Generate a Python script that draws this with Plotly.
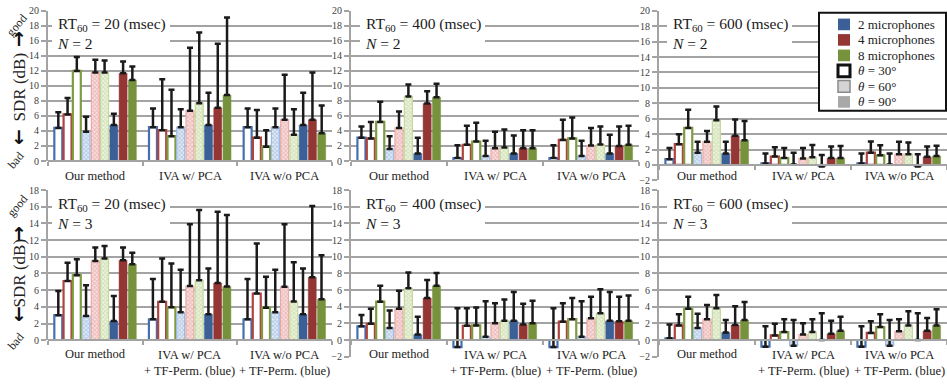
import plotly.graph_objects as go

W, H = 947, 384

# ---------------- data ----------------
groups_top = ["Our method", "IVA w/ PCA", "IVA w/o PCA"]
groups_bottom = ["Our method", "IVA w/ PCA + TF-Perm. (blue)", "IVA w/o PCA + TF-Perm. (blue)"]
group_text_top = ["Our method", "IVA w/ PCA", "IVA w/o PCA"]
group_text_bottom = ["Our method", "IVA w/ PCA<br>+ TF-Perm. (blue)", "IVA w/o PCA<br>+ TF-Perm. (blue)"]

# bar order inside each group:
# theta=30 (2,4,8 mics), theta=60 (2,4,8 mics), theta=90 (2,4,8 mics)
mic_names = ["2 microphones", "4 microphones", "8 microphones"]
theta_names = ["θ = 30°", "θ = 60°", "θ = 90°"]

# N = 2
sdr_n2_rt20 = [[4.4, 6.2, 12.0, 3.9, 11.8, 11.8, 4.8, 11.7, 10.8],
               [4.5, 4.1, 3.3, 4.5, 6.7, 7.7, 4.8, 7.1, 8.8],
               [4.5, 3.1, 1.9, 4.5, 5.5, 3.5, 4.8, 5.5, 3.7]]
std_n2_rt20 = [[2.1, 2.2, 1.85, 2.0, 1.7, 1.6, 1.5, 1.55, 1.8],
               [2.5, 6.8, 6.2, 2.4, 8.4, 9.4, 4.3, 8.5, 10.3],
               [2.5, 3.7, 2.2, 2.5, 6.0, 3.4, 4.3, 6.3, 3.7]]

sdr_n2_rt400 = [[3.1, 3.0, 5.2, 1.6, 4.4, 8.6, 1.0, 7.65, 8.5],
                [0.4, 2.15, 2.6, 0.65, 1.7, 1.8, 1.0, 1.7, 1.7],
                [0.4, 2.8, 3.0, 0.65, 2.05, 2.2, 1.0, 2.0, 2.15]]
std_n2_rt400 = [[1.5, 2.2, 2.7, 1.7, 2.2, 1.6, 2.1, 1.65, 1.8],
                [1.7, 2.55, 2.5, 2.05, 2.2, 2.4, 2.4, 2.4, 2.4],
                [1.7, 2.7, 2.8, 2.05, 2.35, 2.4, 2.5, 2.6, 2.55]]

sdr_n2_rt600 = [[0.75, 2.7, 4.8, 1.6, 3.0, 5.8, 1.5, 3.8, 3.2],
                [0.2, 1.1, 0.9, 0.05, 0.85, 1.0, -0.2, 0.9, 0.9],
                [0.2, 1.6, 1.25, 0.05, 1.4, 1.4, -0.2, 1.05, 1.15]]
std_n2_rt600 = [[1.45, 1.3, 2.35, 1.4, 1.4, 1.8, 1.5, 2.1, 2.5],
                [1.3, 1.2, 1.3, 1.55, 1.35, 1.6, 1.5, 1.5, 1.55],
                [1.3, 1.45, 1.3, 1.45, 1.6, 1.5, 1.6, 1.35, 1.35]]

# N = 3
sdr_n3_rt20 = [[3.0, 7.1, 7.8, 2.9, 9.5, 9.8, 2.3, 9.6, 9.1],
               [2.5, 4.6, 3.95, 3.35, 6.5, 7.2, 3.1, 6.85, 6.45],
               [2.5, 5.6, 3.9, 3.35, 6.4, 4.65, 3.1, 7.55, 4.9]]
std_n3_rt20 = [[2.9, 2.2, 1.9, 3.7, 1.6, 1.5, 3.0, 1.5, 1.4],
               [4.85, 5.2, 5.25, 5.1, 7.4, 8.4, 5.5, 8.55, 8.55],
               [4.85, 6.0, 3.7, 5.1, 7.5, 4.7, 5.5, 8.55, 5.3]]

sdr_n3_rt400 = [[1.65, 1.95, 4.6, 1.45, 3.75, 6.2, 0.65, 5.05, 6.5],
                [-0.85, 1.7, 1.75, 0.4, 2.0, 2.3, 2.3, 1.85, 2.0],
                [-0.85, 2.2, 2.5, 0.4, 2.6, 3.2, 2.3, 2.25, 2.3]]
std_n3_rt400 = [[1.35, 1.8, 1.9, 2.1, 2.15, 1.9, 2.15, 2.15, 1.55],
                [4.65, 2.1, 2.15, 4.25, 2.4, 2.55, 3.45, 2.5, 2.7],
                [4.65, 2.2, 2.55, 4.25, 2.6, 2.9, 3.45, 2.95, 3.05]]

sdr_n3_rt600 = [[0.2, 1.75, 3.75, 1.45, 2.5, 3.8, 0.9, 1.8, 2.4],
                [-0.8, 0.55, 0.95, -0.7, 0.65, 0.95, 0.0, 0.75, 1.1],
                [-0.8, 0.85, 1.55, -0.7, 1.05, 1.75, 0.0, 1.1, 1.75]]
std_n3_rt600 = [[1.65, 1.35, 1.45, 1.7, 1.7, 1.6, 1.5, 2.25, 2.15],
                [2.45, 1.4, 1.55, 3.1, 1.35, 1.55, 3.2, 1.55, 1.7],
                [2.45, 1.4, 1.55, 3.1, 1.45, 1.7, 3.2, 1.55, 1.95]]

rt_labels = ["20", "400", "600"]

# ---------------- styles ----------------
FONT = "Liberation Serif"
solid_col = ["#3B5F97", "#943634", "#76923C"]
outline_col = ["#4470B0", "#B0423F", "#7E9B42"]
hatch_bg = ["#E3ECF7", "#F8E2E1", "#EEF4E2"]
hatch_fg = ["#7FA5D6", "#E08A88", "#B3CE85"]
hatch_line = ["#9DBAE0", "#E8A9A7", "#C3D99E"]
GRID = "#A3A3A3"

# panel geometry in pixels: x0, x1, ytop, ybottom, yrange
panels = [
    dict(v=sdr_n2_rt20, e=std_n2_rt20, g=groups_top, t=group_text_top, rt=0, n=2, x=(48, 332), y=(5, 160), r=(0, 20)),
    dict(v=sdr_n2_rt400, e=std_n2_rt400, g=groups_top, t=group_text_top, rt=1, n=2, x=(351, 639), y=(5, 160), r=(0, 20)),
    dict(v=sdr_n2_rt600, e=std_n2_rt600, g=groups_top, t=group_text_top, rt=2, n=2, x=(659, 947), y=(5, 180), r=(-2, 20)),
    dict(v=sdr_n3_rt20, e=std_n3_rt20, g=groups_bottom, t=group_text_bottom, rt=0, n=3, x=(48, 332), y=(190, 345), r=(0, 18)),
    dict(v=sdr_n3_rt400, e=std_n3_rt400, g=groups_bottom, t=group_text_bottom, rt=1, n=3, x=(351, 639), y=(190, 362), r=(-2, 18)),
    dict(v=sdr_n3_rt600, e=std_n3_rt600, g=groups_bottom, t=group_text_bottom, rt=2, n=3, x=(659, 947), y=(190, 362), r=(-2, 18)),
]
text_left = [55, 363, 670]
text_w = [114, 121, 121]


def px(x):
    return x / W


def py(y):
    return 1 - y / H


fig = go.Figure()
layout = dict(
    width=W, height=H, margin=dict(l=0, r=0, t=0, b=0),
    paper_bgcolor="white", plot_bgcolor="white",
    barmode="group", bargap=0.12, bargroupgap=0.14,
    showlegend=False, font=dict(family=FONT, color="#222222"),
)
shapes = []
annotations = []

for i, p in enumerate(panels):
    k = i + 1
    xa = "x" if k == 1 else f"x{k}"
    ya = "y" if k == 1 else f"y{k}"
    for j in range(9):
        mic = j % 3
        ang = j // 3
        yvals = [p["v"][gi][j] for gi in range(3)]
        evals = [p["e"][gi][j] for gi in range(3)]
        if ang == 0:
            marker = dict(color="white", line=dict(color=outline_col[mic], width=2.2))
        elif ang == 1:
            marker = dict(color=hatch_bg[mic],
                          pattern=dict(shape="x", fgcolor=hatch_fg[mic], bgcolor=hatch_bg[mic],
                                       size=3, solidity=0.5),
                          line=dict(color=hatch_line[mic], width=1.2))
        else:
            marker = dict(color=solid_col[mic], line=dict(color=solid_col[mic], width=0.5))
        fig.add_trace(go.Bar(
            x=p["g"], y=yvals, xaxis=xa, yaxis=ya, marker=marker,
            name=f"{mic_names[mic]}, {theta_names[ang]}",
            error_y=dict(type="data", array=evals, arrayminus=[0] * 3, symmetric=False,
                         color="#1A1A1A", thickness=2.5, width=3),
        ))

    ymin, ymax = p["r"]
    yt, yb = p["y"]
    zero_px = yt + (ymax - 0) / (ymax - ymin) * (yb - yt)
    layout["xaxis" if k == 1 else f"xaxis{k}"] = dict(
        domain=[px(p["x"][0]), px(p["x"][1])], anchor="free", position=py(zero_px),
        type="category", showline=True, linecolor=GRID, linewidth=2,
        ticks="outside", ticklen=4, tickwidth=2, tickcolor=GRID, tickson="boundaries",
        showticklabels=False, showgrid=False, fixedrange=True,
    )
    layout["yaxis" if k == 1 else f"yaxis{k}"] = dict(
        domain=[py(yb), py(yt)], anchor=xa, range=[ymin, ymax], dtick=2, tick0=0,
        showline=True, linecolor=GRID, linewidth=2, ticks="outside", ticklen=5,
        tickwidth=2, tickcolor=GRID, showgrid=True, gridcolor=GRID, gridwidth=2,
        zeroline=False, tickfont=dict(family=FONT, size=10, color="#404040"),
        fixedrange=True,
    )

    # category labels
    top_row = i < 3
    for gi in range(3):
        two_lines = "<br>" in p["t"][gi]
        if top_row:
            ly, anchor = 175, "middle"
        elif two_lines:
            ly, anchor = 351, "top"
        else:
            ly, anchor = 359, "middle"
        annotations.append(dict(
            x=p["g"][gi], xref=xa, y=py(ly), yref="paper", text=p["t"][gi],
            showarrow=False, xanchor="center", yanchor=anchor,
            font=dict(family=FONT, size=12.5, color="#222222")))

    # condition text box
    c = i % 3
    tl = text_left[c]
    box_top = 11 if top_row else 196
    shapes.append(dict(type="rect", xref="paper", yref="paper",
                       x0=px(tl - 3), x1=px(tl + text_w[c] + 1),
                       y0=py(box_top + 35), y1=py(box_top),
                       fillcolor="white", line=dict(width=0), layer="above"))
    mid = 28.5 if top_row else 214
    annotations.append(dict(
        x=px(tl), y=py(mid), xref="paper", yref="paper", xanchor="left", yanchor="middle",
        align="left",
        text=f"RT<sub>60</sub> = {rt_labels[p['rt']]} (msec)<br><i>N</i> = {p['n']}",
        showarrow=False, font=dict(family=FONT, size=15.5, color="#1A1A1A")))

# y-axis titles
for (g_y, up_y, t_y, dn_y, b_y) in [(20, 34, 84, 135, 159), (206, 235, 276, 318, 346)]:
    annotations += [
        dict(x=px(17), y=py(g_y), text="good", textangle=-50,
             font=dict(family=FONT, size=12, color="#222222")),
        dict(x=px(19), y=py(up_y), text="<b>↑</b>",
             font=dict(family="DejaVu Sans", size=19, color="#111111")),
        dict(x=px(19), y=py(t_y), text="SDR (dB)", textangle=-90,
             font=dict(family=FONT, size=17, color="#222222")),
        dict(x=px(19), y=py(dn_y), text="<b>↓</b>",
             font=dict(family="DejaVu Sans", size=19, color="#111111")),
        dict(x=px(16), y=py(b_y), text="bad", textangle=-50,
             font=dict(family=FONT, size=12, color="#222222")),
    ]
    for a in annotations[-5:]:
        a.update(xref="paper", yref="paper", showarrow=False, xanchor="center", yanchor="middle")

# legend (drawn manually)
shapes.append(dict(type="rect", xref="paper", yref="paper", x0=px(819), x1=px(946),
                   y0=py(108), y1=py(7), fillcolor="white",
                   line=dict(color="#111111", width=2), layer="above"))
rows_y = [19, 35, 51, 67, 83, 99]
sq_fill = [solid_col[0], solid_col[1], solid_col[2], "white", "#D4D4D4", "#A8A8A8"]
sq_line = [None, None, None, ("#111111", 3), ("#8A8A8A", 1.5), None]
leg_text = mic_names + ["<i>θ</i> = 30°", "<i>θ</i> = 60°", "<i>θ</i> = 90°"]
for ry, f, ln, t in zip(rows_y, sq_fill, sq_line, leg_text):
    shapes.append(dict(type="rect", xref="paper", yref="paper",
                       x0=px(838), x1=px(850), y0=py(ry + 6), y1=py(ry - 6),
                       fillcolor=f,
                       line=dict(color=ln[0], width=ln[1]) if ln else dict(width=0),
                       layer="above"))
    annotations.append(dict(x=px(856), y=py(ry), xref="paper", yref="paper",
                            xanchor="left", yanchor="middle", text=t, showarrow=False,
                            font=dict(family=FONT, size=13, color="#222222")))

layout["shapes"] = shapes
layout["annotations"] = annotations
fig.update_layout(**layout)
fig.write_html("out.html")
